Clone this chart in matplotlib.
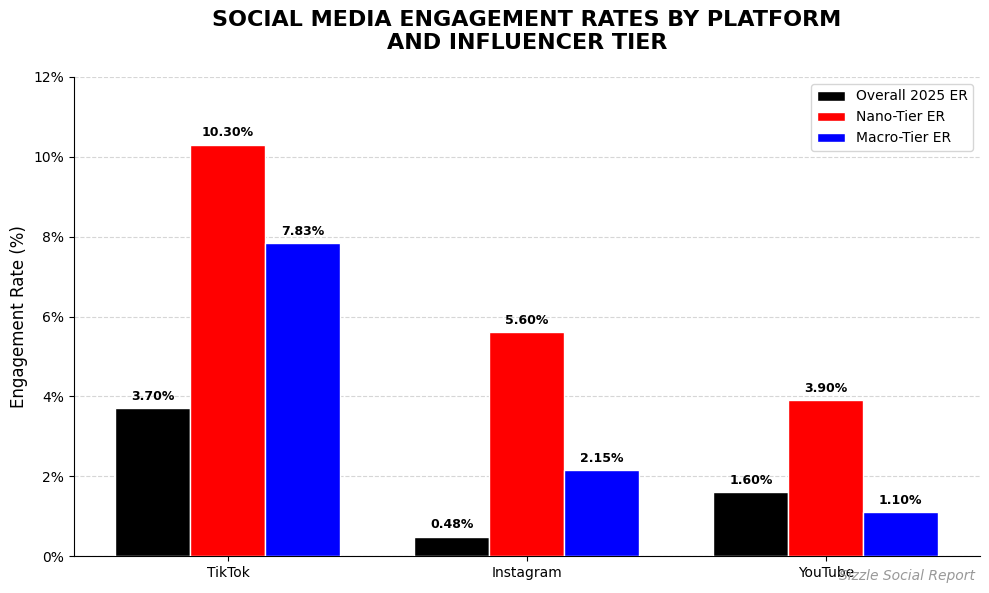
import matplotlib
matplotlib.use("Agg")
import matplotlib.pyplot as plt
import numpy as np
from matplotlib.ticker import FuncFormatter

platforms = ["TikTok", "Instagram", "YouTube"]
overall = [3.70, 0.48, 1.60]
nano = [10.30, 5.60, 3.90]
macro = [7.83, 2.15, 1.10]
series_names = ["Overall 2025 ER", "Nano-Tier ER", "Macro-Tier ER"]
colors = ["#000000", "#ff0000", "#0000ff"]

fig = plt.figure(figsize=(9.89, 5.93), dpi=100)
ax = fig.add_axes([74/989, 1-556/593, (980-74)/989, (556-77)/593])

x = np.arange(len(platforms))
w = 0.25
for i, (vals, name, c) in enumerate(zip([overall, nano, macro], series_names, colors)):
    bars = ax.bar(x + (i-1)*w - 0.0015, vals, w, color=c, edgecolor="white", linewidth=1, label=name, zorder=3)
    for b, v in zip(bars, vals):
        ax.annotate(f"{v:.2f}%", (b.get_x()+b.get_width()/2, v), xytext=(0, 4),
                    textcoords="offset points", ha="center", va="bottom",
                    fontsize=9, fontweight="bold")

ax.set_xlim(-0.515, 2.515)
ax.set_ylim(0, 12)
ax.set_yticks(range(0, 13, 2))
ax.yaxis.set_major_formatter(FuncFormatter(lambda v, p: f"{v:.0f}%"))
ax.set_xticks(x)
ax.set_xticklabels(platforms)
ax.tick_params(labelsize=10)
ax.set_ylabel("Engagement Rate (%)", fontsize=12)
ax.grid(axis="y", linestyle="--", color="#cccccc", alpha=0.8, zorder=0)
ax.spines["top"].set_visible(False)
ax.spines["right"].set_visible(False)
ax.legend(loc="upper right", fontsize=10)
ax.set_title("SOCIAL MEDIA ENGAGEMENT RATES BY PLATFORM\nAND INFLUENCER TIER",
             fontsize=16, fontweight="bold", pad=20)
fig.text(975/989, 1-576/593, "Sizzle Social Report", ha="right", va="center",
         fontsize=10, style="italic", color="#999999")
fig.savefig("out.png", dpi=100)
